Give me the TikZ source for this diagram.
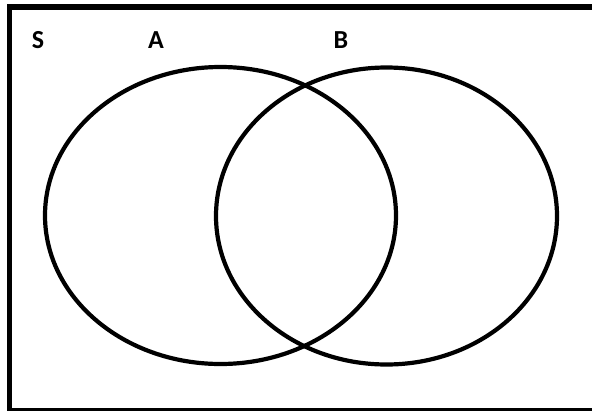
\documentclass[tikz,border=0pt]{standalone}
\usepackage{fontspec}
\setmainfont{Carlito}
\begin{document}
\begin{tikzpicture}[x=1pt,y=-1pt,
  frame/.style={line width=5.5pt,draw=black},
  setcurve/.style={line width=4.2pt,draw=black},
  setlabel/.style={font=\fontsize{26}{30}\selectfont\bfseries,inner sep=0pt,anchor=center}]
\useasboundingbox (0,0) rectangle (592,410);
\clip (0,0) rectangle (592,410);
\fill[white] (0,0) rectangle (592,410);
\draw[frame] (9.5,7) rectangle (600,411);
\draw[setcurve] (220.5,215.5) ellipse [x radius=175.5, y radius=148.5];
\draw[setcurve] (386.5,216) ellipse [x radius=170.5, y radius=148.5];
\node[setlabel] (S) at (38,40.5) {S};
\node[setlabel] (A) at (156,40.5) {A};
\node[setlabel] (B) at (341,40.5) {B};
\end{tikzpicture}
\end{document}
